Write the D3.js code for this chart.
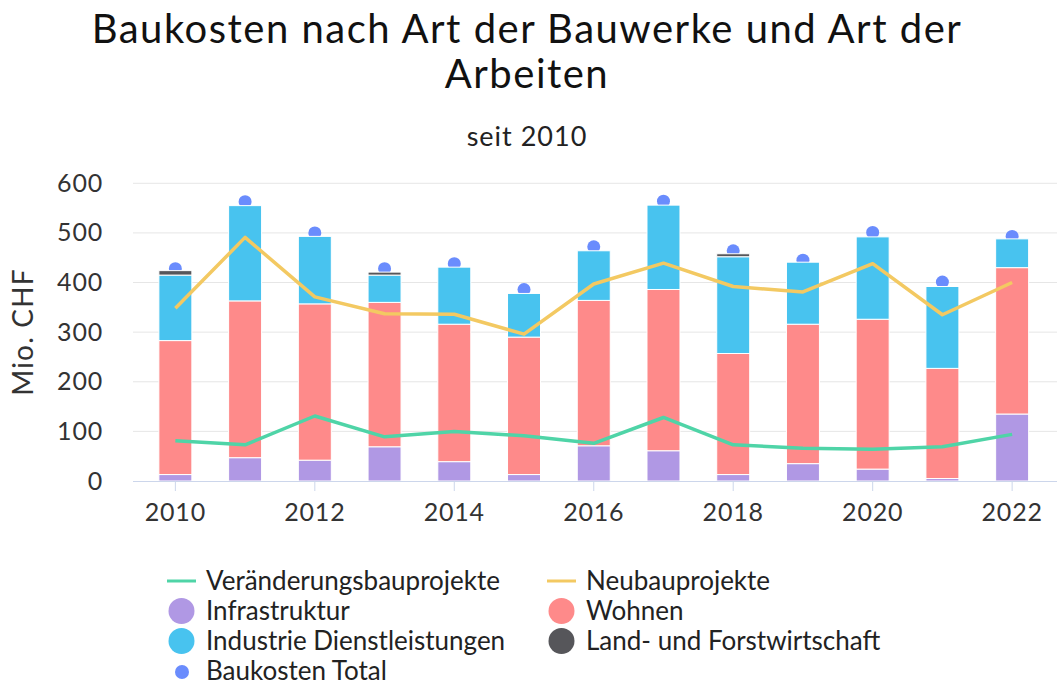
<!DOCTYPE html>
<html>
<head>
<meta charset="utf-8">
<script src="https://cdn.jsdelivr.net/npm/d3@7"></script>
<style>
  body { margin: 0; background: #fff; }
  svg { display: block; font-family: Lato, "Open Sans", sans-serif; }
</style>
</head>
<body>
<svg id="chart" width="1058" height="684"></svg>
<script>
var years = [2010, 2011, 2012, 2013, 2014, 2015, 2016, 2017, 2018, 2019, 2020, 2021, 2022];
var infrastruktur = [13, 47, 42, 69, 39, 13, 71, 61, 13, 35, 24, 5, 135];
var wohnen = [270, 316, 315, 291, 277, 277, 293, 325, 244, 281, 302, 222, 295];
var industrie = [132, 192, 136, 55, 115, 88, 100, 170, 195, 125, 166, 165, 58];
var landForst = [9, 0, 0, 6, 0, 0, 0, 0, 6, 0, 0, 0, 0];
var veraenderung = [81, 73, 131, 89, 100, 91, 76, 128, 73, 66, 64, 69, 94];
var neubau = [348, 491, 371, 337, 336, 296, 397, 439, 392, 381, 438, 335, 400];
var total = [428, 563, 500, 428, 438, 386, 472, 564, 464, 445, 501, 401, 493];
var yTicks = [0, 100, 200, 300, 400, 500, 600];
var xTicks = [2010, 2012, 2014, 2016, 2018, 2020, 2022];

var stackSeries = [
  { name: "Infrastruktur", values: infrastruktur, color: "#b098e4" },
  { name: "Wohnen", values: wohnen, color: "#fe8a8a" },
  { name: "Industrie Dienstleistungen", values: industrie, color: "#48c3ef" },
  { name: "Land- und Forstwirtschaft", values: landForst, color: "#56565a" }
];
var lineSeries = [
  { name: "Veränderungsbauprojekte", values: veraenderung, color: "#4fd4a7" },
  { name: "Neubauprojekte", values: neubau, color: "#f3c962" }
];
var totalColor = "#6a8cfd";

var svg = d3.select("#chart");
var plotLeft = 133, plotRight = 1057, plotTop = 183.3, plotBottom = 481;

var x = d3.scaleBand().domain(years).range([140.5, 1047]).paddingInner(0.527).paddingOuter(0.2635);
var y = d3.scaleLinear().domain([0, 600]).range([plotBottom, plotTop]);
var cx = function (yr) { return x(yr) + x.bandwidth() / 2; };

// titles
var title = svg.append("text").attr("text-anchor", "middle").attr("font-size", 40)
  .attr("letter-spacing", 1.5).attr("fill", "#111");
title.append("tspan").attr("x", 527).attr("y", 43).text("Baukosten nach Art der Bauwerke und Art der");
title.append("tspan").attr("x", 527).attr("y", 88).text("Arbeiten");
svg.append("text").attr("x", 527).attr("y", 146).attr("text-anchor", "middle")
  .attr("font-size", 27).attr("letter-spacing", 1).attr("fill", "#222").text("seit 2010");

// grid
svg.append("g").selectAll("line").data(yTicks.slice(1)).enter().append("line")
  .attr("x1", plotLeft).attr("x2", plotRight)
  .attr("y1", function (d) { return y(d); }).attr("y2", function (d) { return y(d); })
  .attr("stroke", "#e6e6e6").attr("stroke-width", 1);

// y labels
svg.append("g").selectAll("text").data(yTicks).enter().append("text")
  .attr("x", 103).attr("y", function (d) { return y(d) + 8.5; })
  .attr("text-anchor", "end").attr("font-size", 25).attr("letter-spacing", 0.8).attr("fill", "#333")
  .text(function (d) { return d; });

svg.append("text").attr("transform", "translate(33,332) rotate(-90)")
  .attr("text-anchor", "middle").attr("font-size", 28).attr("letter-spacing", 1.2)
  .attr("fill", "#333").text("Mio. CHF");

// total markers (behind the bars)
svg.append("g").selectAll("circle").data(years).enter().append("circle")
  .attr("cx", cx)
  .attr("cy", function (d, i) { return y(total[i]); })
  .attr("r", 6.5).attr("fill", totalColor);

// stacked bars
var rows = years.map(function (yr, i) {
  var r = { year: yr };
  stackSeries.forEach(function (s) { r[s.name] = s.values[i]; });
  return r;
});
var stack = d3.stack().keys(stackSeries.map(function (s) { return s.name; }));
var layers = stack(rows);

svg.append("g").selectAll("g").data(layers).enter().append("g")
  .attr("fill", function (d, i) { return stackSeries[i].color; })
  .selectAll("rect").data(function (d) { return d.filter(function (p) { return p[1] > p[0]; }); })
  .enter().append("rect")
  .attr("x", function (d) { return x(d.data.year); })
  .attr("y", function (d) { return y(d[1]); })
  .attr("width", x.bandwidth())
  .attr("height", function (d) { return y(d[0]) - y(d[1]); })
  .attr("stroke", "#fff").attr("stroke-width", 1);

// x axis
svg.append("line").attr("x1", plotLeft).attr("x2", plotRight)
  .attr("y1", plotBottom + 0.5).attr("y2", plotBottom + 0.5).attr("stroke", "#ccd6eb");
var xa = svg.append("g").selectAll("g").data(xTicks).enter().append("g")
  .attr("transform", function (d) { return "translate(" + cx(d) + ",0)"; });
xa.append("line").attr("y1", plotBottom).attr("y2", plotBottom + 10).attr("stroke", "#ccd6eb");
xa.append("text").attr("y", 521).attr("text-anchor", "middle").attr("font-size", 25)
  .attr("letter-spacing", 0.8).attr("fill", "#333")
  .text(function (d) { return d; });

// lines
var line = d3.line()
  .x(function (d, i) { return cx(years[i]); })
  .y(function (d) { return y(d); });
svg.append("g").selectAll("path").data(lineSeries).enter().append("path")
  .attr("d", function (d) { return line(d.values); })
  .attr("fill", "none")
  .attr("stroke", function (d) { return d.color; })
  .attr("stroke-width", 3.5)
  .attr("stroke-linejoin", "round");

// legend
var legendItems = [
  { name: lineSeries[0].name, color: lineSeries[0].color, type: "line", col: 0, row: 0 },
  { name: lineSeries[1].name, color: lineSeries[1].color, type: "line", col: 1, row: 0 },
  { name: stackSeries[0].name, color: stackSeries[0].color, type: "big", col: 0, row: 1 },
  { name: stackSeries[1].name, color: stackSeries[1].color, type: "big", col: 1, row: 1 },
  { name: stackSeries[2].name, color: stackSeries[2].color, type: "big", col: 0, row: 2 },
  { name: stackSeries[3].name, color: stackSeries[3].color, type: "big", col: 1, row: 2 },
  { name: "Baukosten Total", color: totalColor, type: "dot", col: 0, row: 3 }
];
var colX = [167, 547];
var rowY = [581, 611, 641, 671];
var lg = svg.append("g").selectAll("g").data(legendItems).enter().append("g")
  .attr("transform", function (d) { return "translate(" + colX[d.col] + "," + rowY[d.row] + ")"; });
lg.each(function (d) {
  var g = d3.select(this);
  if (d.type === "line") {
    g.append("line").attr("x1", 0).attr("x2", 29).attr("y1", 0).attr("y2", 0)
      .attr("stroke", d.color).attr("stroke-width", 3);
  } else if (d.type === "big") {
    g.append("circle").attr("cx", 14.5).attr("cy", 0).attr("r", 13).attr("fill", d.color);
  } else {
    g.append("circle").attr("cx", 15).attr("cy", 1).attr("r", 7).attr("fill", d.color);
  }
  g.append("text").attr("x", 39).attr("y", 9).attr("font-size", 26).attr("fill", "#222").text(d.name);
});
</script>
</body>
</html>
